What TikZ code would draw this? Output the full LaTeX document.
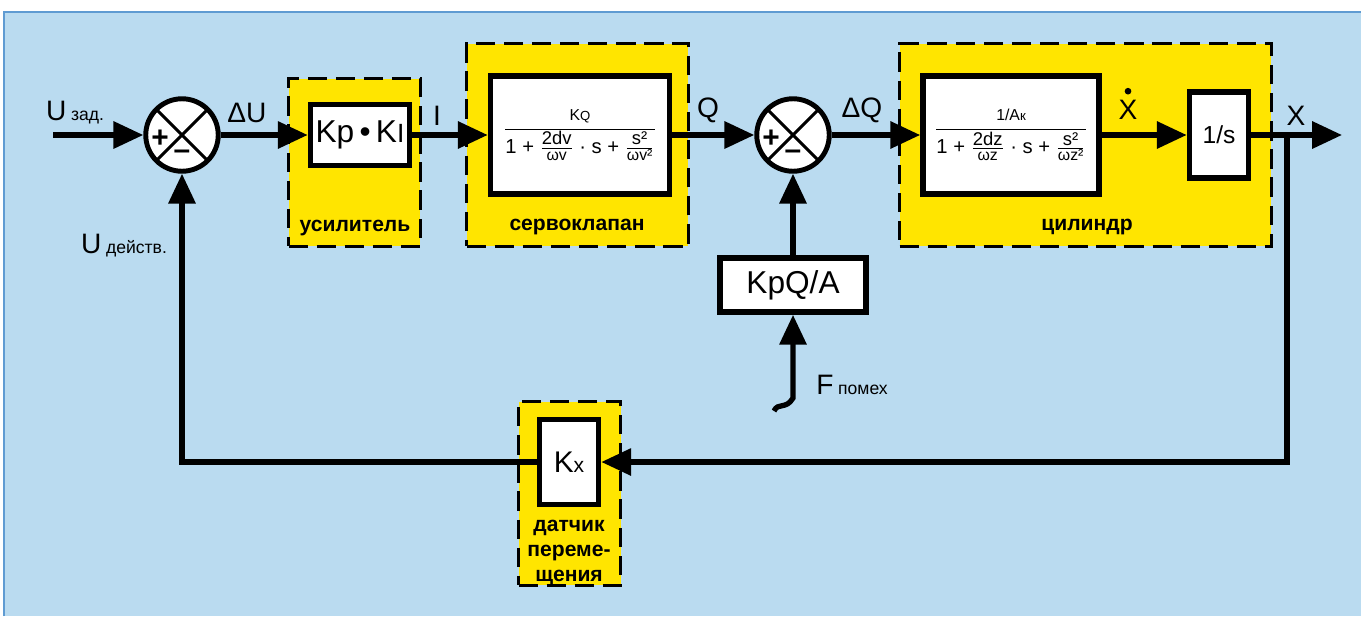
\documentclass[tikz,border=0pt]{standalone}
\usepackage{fontspec}
\setmainfont{Liberation Sans}
\usepackage{tikz}
\usetikzlibrary{arrows.meta, positioning, calc}
\definecolor{paperBlue}{RGB}{186, 219, 240}
\definecolor{frameBlue}{RGB}{95, 155, 210}
\definecolor{unitYellow}{RGB}{255, 229, 0}
\newcommand{\idx}[1]{{\fontsize{10}{12}\selectfont #1}}
\newcommand{\smalltxt}[1]{{\fontsize{9}{10}\selectfont #1}}

\begin{document}
\begin{tikzpicture}[
    x=0.02cm, y=-0.02cm,
    unitbox/.style={
        rectangle,
        draw=black,
        dash pattern=on 11pt off 5pt,
        line width=1.7pt,
        fill=unitYellow
    },
    block/.style={
        rectangle,
        draw=black,
        line width=3.2pt,
        fill=white,
        inner sep=2pt,
        font=\fontsize{18}{20}\selectfont
    },
    summer/.style={
        circle,
        draw=black,
        line width=2.8pt,
        fill=white,
        minimum size=1.45cm,
        inner sep=0pt,
        path picture={
            \draw[line width=1.7pt]
                (path picture bounding box.north west) -- (path picture bounding box.south east)
                (path picture bounding box.north east) -- (path picture bounding box.south west);
        }
    },
    sign/.style={font=\fontsize{17}{17}\selectfont\bfseries, inner sep=0pt},
    sig/.style={font=\fontsize{16}{18}\selectfont, inner sep=1pt},
    caption/.style={font=\fontsize{12}{14}\selectfont\bfseries, align=center},
    arr/.style={-{Triangle[length=17pt,width=15pt]}, line width=3pt}
]

% Paper
\useasboundingbox (0,0) rectangle (1361,616);
\fill[paperBlue] (4,12) rectangle (1361,616);
\draw[frameBlue, line width=1.2pt] (4,616) -- (4,12) -- (1361,12);

% Units (yellow)
\node[unitbox, minimum width=2.64cm, minimum height=3.36cm] (ampbox) at (354.5,162.5) {};
\node[unitbox, minimum width=4.44cm, minimum height=4.06cm] (servobox) at (577.5,145) {};
\node[unitbox, minimum width=7.44cm, minimum height=4.06cm] (cylbox) at (1085.5,145) {};
\node[unitbox, minimum width=2.04cm, minimum height=3.68cm] (sensbox) at (569.5,493.5) {};

% Blocks
\node[block, minimum width=1.98cm, minimum height=1.22cm] (kp) at (360,135)
    {Kp\,•\,K{\fontsize{15}{17}\selectfont I}};
\node[block, minimum width=3.58cm, minimum height=2.36cm, font=\fontsize{11.5}{13}\selectfont] (servo) at (580,135)
    {$\displaystyle\frac{\mbox{\smalltxt{K{\fontsize{7.5}{8}\selectfont Q}}}}
      {\mbox{1 +\ }\frac{\mbox{\fontsize{10.5}{12}\selectfont 2dv}}{\mbox{\smalltxt{ωv}}}\mbox{\ · s +\ }\frac{\mbox{\fontsize{10.5}{12}\selectfont s²}}{\mbox{\smalltxt{ωv²}}}}$};
\node[block, minimum width=3.52cm, minimum height=2.36cm, font=\fontsize{11.5}{13}\selectfont] (cyl) at (1011,135)
    {$\displaystyle\frac{\mbox{\smalltxt{1/A{\fontsize{7.5}{8}\selectfont к}}}}
      {\mbox{1 +\ }\frac{\mbox{\fontsize{10.5}{12}\selectfont 2dz}}{\mbox{\smalltxt{ωz}}}\mbox{\ · s +\ }\frac{\mbox{\fontsize{10.5}{12}\selectfont s²}}{\mbox{\smalltxt{ωz²}}}}$};
\node[block, minimum width=1.18cm, minimum height=1.72cm, font=\fontsize{14}{16}\selectfont] (integ) at (1219,135) {1/s};
\node[block, minimum width=2.92cm, minimum height=1.08cm] (kpqa) at (793,285) {KpQ/A};
\node[block, minimum width=1.18cm, minimum height=1.7cm, font=\fontsize{17}{18}\selectfont] (kx) at (569,462)
    {K{\fontsize{12}{13}\selectfont x}};

% Summing points
\node[summer] (sumU) at (182,135) {};
\node[sign] (sumUp) at ([shift={(-22,4)}]sumU.center) {+};
\node[sign] (sumUm) at ([shift={(0,20)}]sumU.center) {–};
\node[summer] (sumQ) at (793,135) {};
\node[sign] (sumQp) at ([shift={(-22,4)}]sumQ.center) {+};
\node[sign] (sumQm) at ([shift={(0,20)}]sumQ.center) {–};

% Free ends
\coordinate (uin) at (53,135);
\coordinate (xout) at (1342,135);
\coordinate (xtap) at (1287,135);
\coordinate (ftail) at (774,411);
\coordinate (fbend) at (793,398);

% Signal path
\draw[arr] (uin) -- (sumU);
\draw[arr] (sumU) -- (kp);
\draw[arr] (kp) -- (servo);
\draw[arr] (servo) -- (sumQ);
\draw[arr] (sumQ) -- (cyl);
\draw[arr] (cyl) -- (integ);
\draw[arr] (integ) -- (xout);
\draw[arr] (kpqa) -- (sumQ);
\draw[arr] (ftail) .. controls (778,402) and (786,410) .. (fbend) -- (kpqa);

% Feedback
\draw[arr] (xtap) |- (kx);
\draw[arr] (kx) -| (sumU);

% Signal labels
\node[sig] (lUin) at (75,113) {U\,\idx{зад.}};
\node[sig] (lDU) at (247,113) {ΔU};
\node[sig] (lI) at (437,116) {I};
\node[sig] (lQ) at (708,110) {Q};
\node[sig] (lDQ) at (862,110) {ΔQ};
\node[sig] (lXd) at (1128,110) {X};
\fill ([yshift=4pt]lXd.north) circle (1.9pt);
\node[sig] (lX) at (1296,116) {X};
\node[sig] (lUact) at (124,246) {U\,\idx{действ.}};
\node[sig] (lF) at (852,385) {F\,\idx{помех}};

% Unit captions
\node[caption] (capamp) at (355,228) {усилитель};
\node[caption] (capservo) at (577,227) {сервоклапан};
\node[caption] (capcyl) at (1087,227) {цилиндр};
\node[caption] (capsens) at (569,553) {датчик\\переме-\\щения};

\end{tikzpicture}
\end{document}
